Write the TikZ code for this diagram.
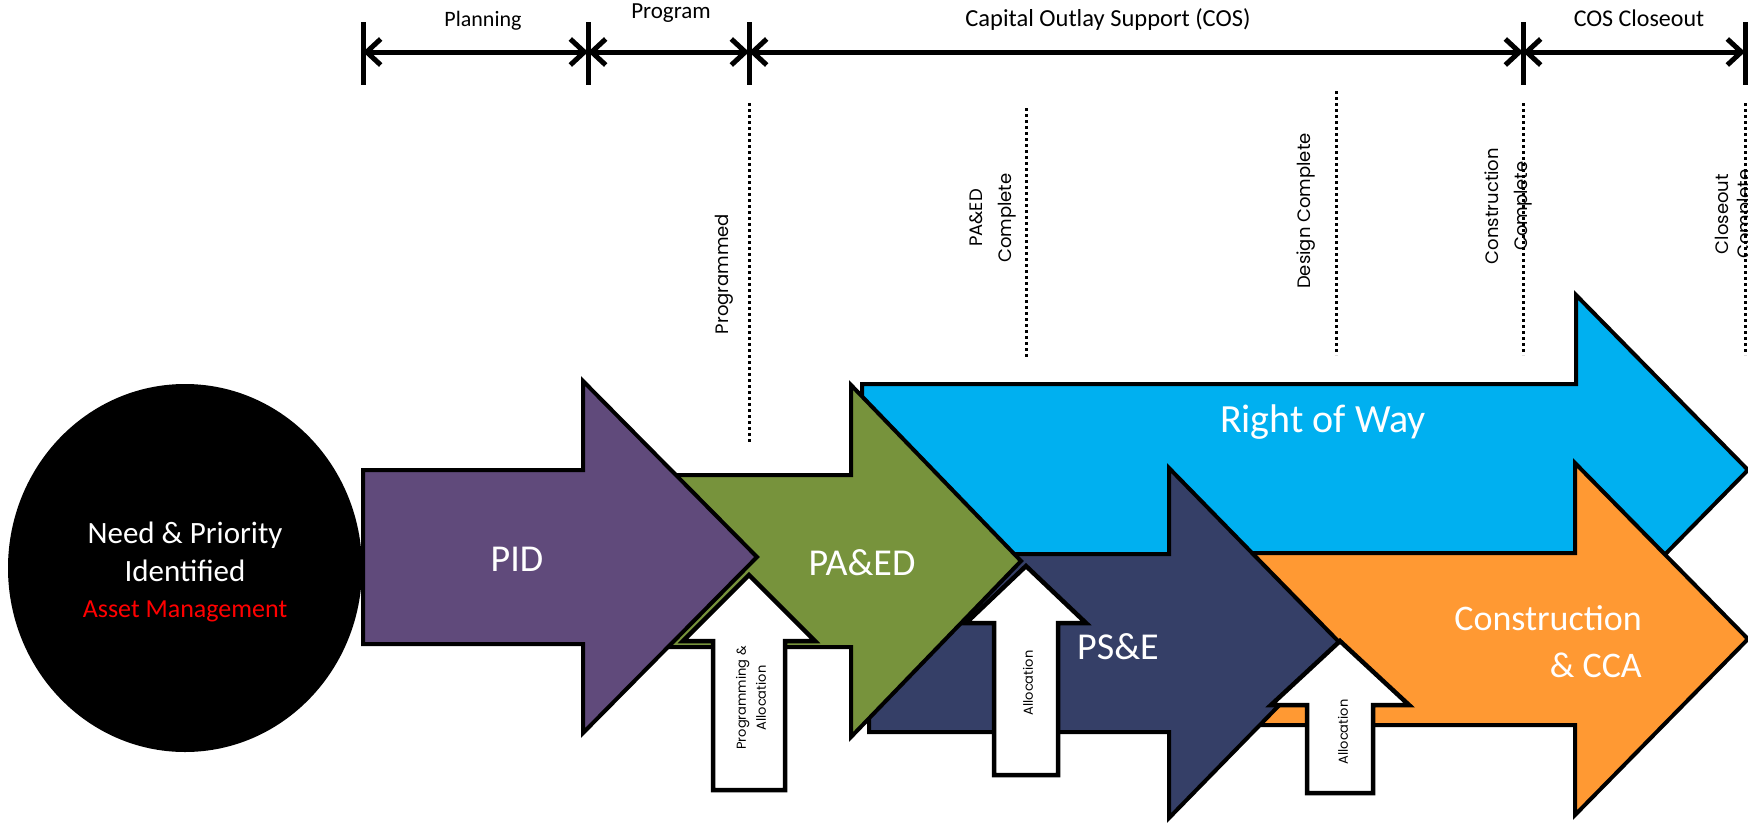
\documentclass[tikz,border=0pt]{standalone}
\usepackage{fontspec}
\setmainfont{Carlito}
\newfontfamily\gothic{Poppins}
\usetikzlibrary{arrows.meta,shapes.geometric}
\definecolor{pidpurple}{HTML}{604A7B}
\definecolor{paedgreen}{HTML}{77933C}
\definecolor{rowblue}{HTML}{00B0F0}
\definecolor{psenavy}{HTML}{353F67}
\definecolor{conorange}{HTML}{FF9933}
\definecolor{assetred}{HTML}{FF0000}
% left, notch, tip, centre y, body half height, head half height, colour
\newcommand\blockarrow[7]{%
  \filldraw[blockline, fill=#7] (#1,{#4-#5}) -- (#2,{#4-#5}) -- (#2,{#4-#6}) -- (#3,#4)
    -- (#2,{#4+#6}) -- (#2,{#4+#5}) -- (#1,{#4+#5}) -- cycle;}
% centre x, tip y, head base y, head half width, shaft half width, bottom y
\newcommand\upblock[6]{%
  \filldraw[upline] ({#1-#5},#6) -- ({#1-#5},#3) -- ({#1-#4},#3) -- (#1,#2)
    -- ({#1+#4},#3) -- ({#1+#5},#3) -- ({#1+#5},#6) -- cycle;}
\tikzset{
  blockline/.style={draw=black, line width=4pt, line join=miter},
  upline/.style={draw=black, fill=white, line width=4.5pt, line join=miter},
  tickbar/.style={line width=5pt},
  spanarrow/.style={line width=5pt,
    {Straight Barb[length=14pt,width=26pt]}-{Straight Barb[length=14pt,width=26pt]}},
  milestone/.style={line width=3pt, dash pattern=on 3pt off 3pt},
  headlabel/.style={inner sep=0pt, anchor=base, text=black},
  biglabel/.style={inner sep=0pt, text=white, font=\fontsize{38}{46}\selectfont},
  circlabel/.style={inner sep=0pt, anchor=base, text=white, font=\fontsize{31}{37}\selectfont},
  mslabel/.style={inner sep=0pt, rotate=90, align=center, text=black,
    font=\gothic\fontsize{18}{29}\selectfont},
  smalllabel/.style={inner sep=0pt, rotate=90, align=center, text=black,
    font=\gothic\fontsize{13}{20}\selectfont},
}
\begin{document}
\begin{tikzpicture}[x=1pt, y=-1pt]
\path[use as bounding box] (0,0) rectangle (1748,822);
\clip (0,0) rectangle (1748,822);

% ---- timeline header ----
\coordinate (b1) at (363,52);
\coordinate (b2) at (588,52);
\coordinate (b3) at (749,52);
\coordinate (b4) at (1523,52);
\coordinate (b5) at (1745,52);
\foreach \x in {363,588,749,1523,1745} \draw[tickbar] (\x,22) -- (\x,85);
\draw[spanarrow] (b1) -- (b2);
\draw[spanarrow] (b2) -- (b3);
\draw[spanarrow] (b3) -- (b4);
\draw[spanarrow] (b4) -- (b5);
\node[headlabel, font=\fontsize{22}{26}\selectfont] (planning) at (483,26) {Planning};
\node[headlabel, font=\fontsize{23}{27}\selectfont] (program) at (671,18) {Program};
\node[headlabel, font=\fontsize{24.5}{28}\selectfont] (cos) at (1108,26) {Capital Outlay Support (COS)};
\node[headlabel, font=\fontsize{24}{28}\selectfont] (closeout) at (1639,26) {COS Closeout};

% ---- milestone dotted lines ----
\draw[milestone] (749,103) -- (749,444);
\draw[milestone] (1026,108) -- (1026,357);
\draw[milestone] (1336,91) -- (1336,355);
\draw[milestone] (1523,103) -- (1523,355);
\draw[milestone] (1745,103) -- (1745,355);
\node[mslabel] (ms1) at (724,274) {Programmed};
\node[mslabel] (ms2) at (993,218) {PA\&ED\\Complete};
\node[mslabel] (ms3) at (1306,211) {Design Complete};
\node[mslabel] (ms4) at (1508,206) {Construction\\Complete};
\node[mslabel, font=\gothic\fontsize{18}{22}\selectfont] (ms5) at (1735,214) {Closeout\\Complete};

% ---- block arrows ----
\blockarrow{862}{1576}{1748}{470}{86}{175}{rowblue}
\blockarrow{1200}{1575}{1748}{639}{86}{176}{conorange}
\blockarrow{869}{1169}{1340}{643}{89}{175}{psenavy}
\blockarrow{640}{851}{1021}{561}{86}{176}{paedgreen}
\blockarrow{363}{583}{757}{557}{87}{176}{pidpurple}

% ---- need circle ----
\node[ellipse, fill=black, inner sep=0pt, minimum width=354pt, minimum height=368pt] (need) at (185,568) {};
\node[circlabel] (need1) at (185,543) {Need \& Priority};
\node[circlabel] (need2) at (185,581) {Identified};
\node[circlabel, text=assetred, font=\fontsize{26}{32}\selectfont] (need3) at (185,617) {Asset Management};

% ---- allocation arrows ----
\upblock{749}{575}{641}{66}{36}{790}
\upblock{1026}{566}{623}{60}{32}{775}
\upblock{1340}{641}{705}{69}{33}{793}
\node[smalllabel] (alloc1) at (751,698) {Programming \&\\Allocation};
\node[smalllabel] (alloc2) at (1028,683) {Allocation};
\node[smalllabel] (alloc3) at (1343,732) {Allocation};

% ---- block labels ----
\node[biglabel, anchor=base] (pid) at (517,571) {PID};
\node[biglabel, anchor=base] (paed) at (862,575) {PA\&ED};
\node[biglabel, anchor=base, font=\fontsize{40}{46}\selectfont] (row) at (1323,432) {Right of Way};
\node[biglabel, anchor=base] (pse) at (1118,659) {PS\&E};
\node[biglabel, anchor=base east, font=\fontsize{36}{46}\selectfont] (cons1) at (1642,630) {Construction};
\node[biglabel, anchor=base east, font=\fontsize{36}{46}\selectfont] (cons2) at (1642,677) {\& CCA};
\end{tikzpicture}
\end{document}
